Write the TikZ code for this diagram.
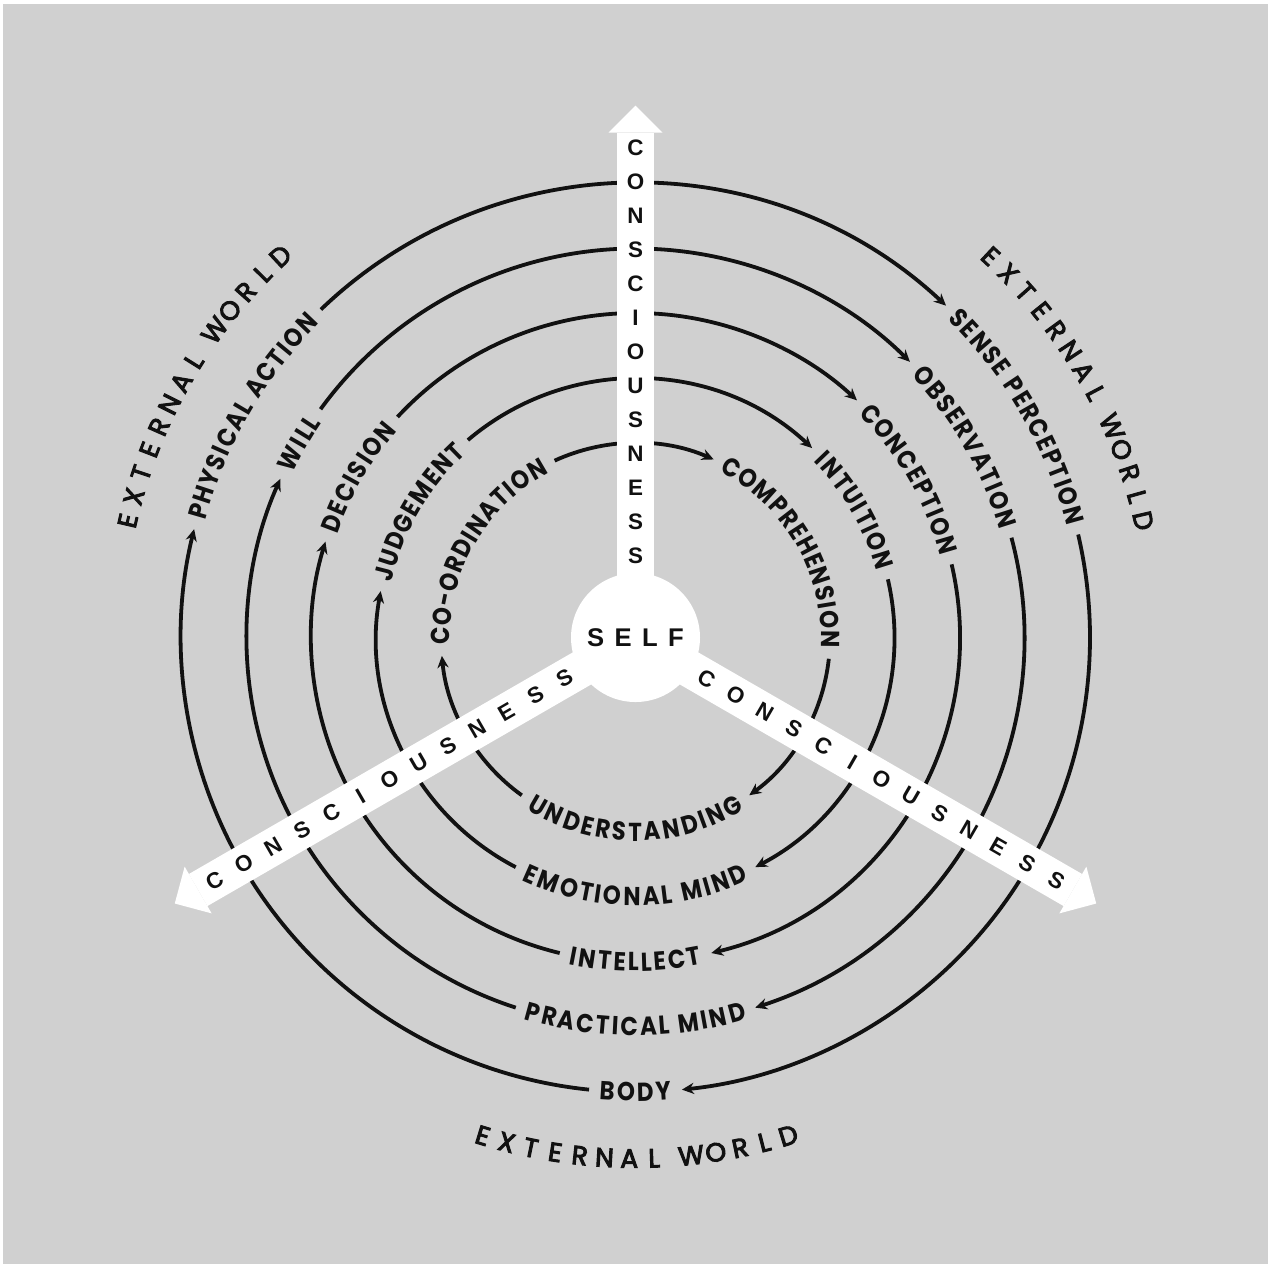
\documentclass[tikz,border=0pt]{standalone}
\usepackage{fontspec}
\usetikzlibrary{arrows.meta}
\newfontfamily\ringfont{Poppins}[FakeStretch=0.88]
\newfontfamily\worldfont{Poppins}
\newfontfamily\armfont{Liberation Sans}
\definecolor{cBack}{HTML}{D0D0D0}
\definecolor{cInk}{HTML}{111111}
\newdimen\labw
% one unit of the picture is a quarter point
\newcommand\ringlab{\ringfont\bfseries\fontsize{6.5}{6.5}\selectfont}
\newcommand\worldlab{\worldfont\fontsize{6.6}{6.6}\selectfont}
\newcommand\armlab{\armfont\bfseries\fontsize{5.6}{5.6}\selectfont}
% fill and stroke the letters, a touch heavier than the regular face
\newcommand\worldink{\special{pdf:literal direct 2 Tr 0.25 w}}
\tikzset{
  ring/.style   ={line width=0.95pt,draw=cInk},
  ringar/.style ={ring,-{Stealth[length=3pt,width=2.8pt]}},
  ringch/.style ={font=\ringlab,inner sep=0pt,anchor=base,text=cInk},
  arm/.style    ={draw=white,line width=9.25pt,
                  -{Triangle[length=6.75pt,width=13.5pt,line width=0pt]}},
  armch/.style  ={font=\armlab,inner sep=0pt,text=cInk},
  worldch/.style={font=\worldlab,inner sep=0pt,text=cInk},
  selfbox/.style={circle,fill=white,minimum size=32.25pt,inner sep=0pt,text=cInk,
                  font=\armfont\bfseries\fontsize{6.4}{6.4}\selectfont},
}
% width of one letter, measured outside the picture's null font
\newcommand\chwidth[1]{\pgfinterruptpicture
  \settowidth\labw{\ringlab#1}\global\labw=\labw\endpgfinterruptpicture}
% letters of a ring label, set one by one round the circle (2 units tracking)
\makeatletter
\newcommand\ringtext[4]{% radius, centre angle, 1 clockwise / -1 anticlockwise, letters
  \gdef\rt@sum{-2}%
  \foreach \ch in #4 {\chwidth{\ch}%
    \pgfmathsetmacro\rt@w{\rt@sum+4*\labw+2}\global\let\rt@sum\rt@w}%
  \pgfmathsetmacro\rtgap{deg((\rt@sum/2+11)/#1)}%
  \pgfmathsetmacro\rt@rad{#1-(#3)*9}%
  \pgfmathsetmacro\rt@w{-\rt@sum/2}\global\let\rt@at\rt@w
  \foreach \ch [count=\k] in #4 {\chwidth{\ch}%
    \pgfmathsetmacro\rt@ang{#2-(#3)*deg((\rt@at+2*\labw)/#1)}%
    \pgfmathsetmacro\rt@rot{\rt@ang-(#3)*90}%
    \node[ringch,rotate=\rt@rot] (ch-\k) at (\rt@ang:\rt@rad) {\ch};
    \pgfmathsetmacro\rt@w{\rt@at+4*\labw+2}\global\let\rt@at\rt@w}%
}
\makeatother
\begin{document}
\begin{tikzpicture}[x=0.25pt,y=0.25pt]
% page and grey field
\useasboundingbox (-635.5,-629.5) rectangle (635.5,637.5);
\fill[white] (-635.5,-629.5) rectangle (635.5,637.5);
\fill[cBack] (-632.5,-626.5) rectangle (632.5,633.5);
\coordinate (hub) at (0,0);

% the five rings, clockwise, labels at 150, 30 and 270 degrees
\foreach \r/\la/\lb/\lc in {
    454.5/{P,H,Y,S,I,C,A,L,~,A,C,T,I,O,N}/{S,E,N,S,E,~,P,E,R,C,E,P,T,I,O,N}/{B,O,D,Y},
    389/{W,I,L,L}/{O,B,S,E,R,V,A,T,I,O,N}/{P,R,A,C,T,I,C,A,L,~,M,I,N,D},
    324.5/{D,E,C,I,S,I,O,N}/{C,O,N,C,E,P,T,I,O,N}/{I,N,T,E,L,L,E,C,T},
    259/{J,U,D,G,E,M,E,N,T}/{I,N,T,U,I,T,I,O,N}/{E,M,O,T,I,O,N,A,L,~,M,I,N,D},
    194.5/{C,O,-,O,R,D,I,N,A,T,I,O,N}/{C,O,M,P,R,E,H,E,N,S,I,O,N}/{U,N,D,E,R,S,T,A,N,D,I,N,G}}{
  \ringtext{\r}{150}{1}{\la}\let\ga\rtgap
  \ringtext{\r}{30}{1}{\lb}\let\gb\rtgap
  \ringtext{\r}{-90}{-1}{\lc}\let\gc\rtgap
  \draw[ringar] (150-\ga:\r) arc[start angle=150-\ga,end angle=30+\gb,radius=\r];
  \draw[ringar] (30-\gb:\r) arc[start angle=30-\gb,end angle=-90+\gc,radius=\r];
  \draw[ringar] (-90-\gc:\r) arc[start angle=-90-\gc,end angle=-210+\ga,radius=\r];
}

% three white arms
\coordinate (tip-up) at (90:532);
\coordinate (tip-left) at (210:532);
\coordinate (tip-right) at (330:532);
\foreach \n in {up,left,right}
  \draw[arm] (hub) -- (tip-\n);
\node[selfbox] (self) at (hub) {S\kern2.6pt E\kern2.6pt L\kern2.6pt F};

\foreach \ch [count=\i from 0] in {C,O,N,S,C,I,O,U,S,N,E,S,S}{
  \node[armch] (up-\i) at (90:490-34*\i) {\ch};
  \node[armch,rotate=30] (left-\i) at (210:486-33.67*\i) {\ch};
  \node[armch,rotate=-30] (right-\i) at (330:82+33.67*\i) {\ch};
}

% external world, spaced out round the outside
\foreach \ch/\p [count=\i] in {E/0,X/1,T/2,E/3,R/4,N/5,A/6,L/7,W/8.5,O/9.5,R/10.5,L/11.5,D/12.5}{
  \pgfmathsetmacro\da{deg((\p-6.25)*24.8/521)}
  \node[worldch,rotate=60-\da] (wa-\i) at (150-\da:521) {\worldink\ch};
  \node[worldch,rotate=-60-\da] (wb-\i) at (30-\da:521) {\worldink\ch};
  \node[worldch,rotate=\da] (wc-\i) at (-90+\da:521) {\worldink\ch};
}
\end{tikzpicture}
\end{document}
